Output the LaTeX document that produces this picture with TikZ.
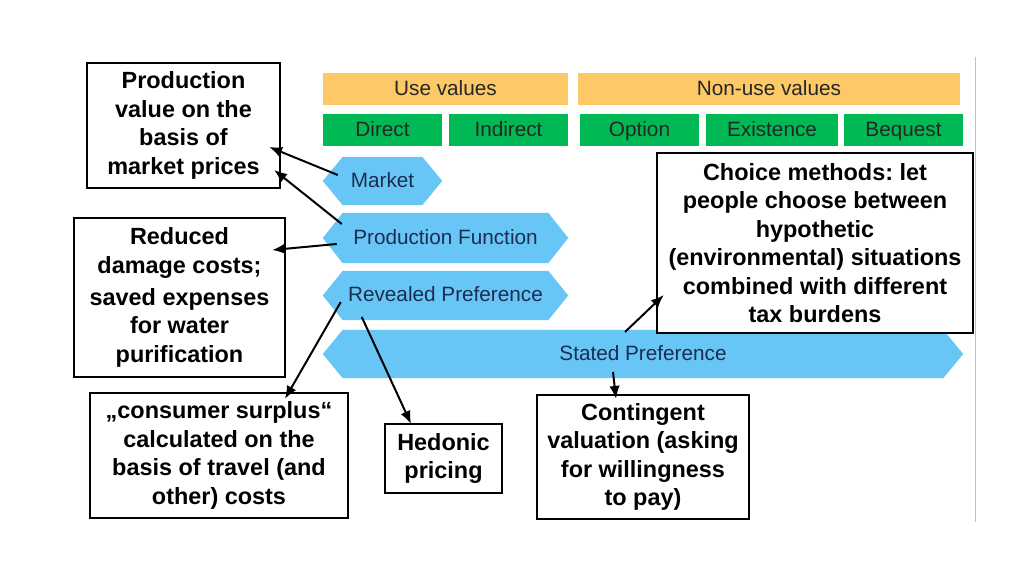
\documentclass[tikz,border=0pt]{standalone}
\usepackage{fontspec}
\setmainfont{Liberation Sans}
\usetikzlibrary{arrows.meta,backgrounds}
\frenchspacing
\newlength\pxu
\setlength\pxu{0.3mm}
\definecolor{barorange}{RGB}{253,201,102}
\definecolor{bargreen}{RGB}{0,184,84}
\definecolor{hexblue}{RGB}{104,198,246}
\definecolor{hextext}{RGB}{28,44,82}
\tikzset{
  bar/.style={inner sep=0pt, minimum height=32\pxu, text height=13pt, text depth=2pt,
    font=\fontsize{17.7}{21}\selectfont, text=black!85},
  hexa/.style={inner sep=0pt, text height=13pt, text depth=2pt,
    font=\fontsize{17.7}{21}\selectfont, text=hextext},
  note/.style={draw=black, line width=2pt, fill=white, align=center, inner sep=0pt,
    font=\fontsize{20}{24.3}\selectfont\bfseries},
  arr/.style={line width=1.7pt, -{Latex[length=11pt,width=9pt]}}
}
\begin{document}
\begin{tikzpicture}[x=0.3mm,y=-0.3mm]
\useasboundingbox (0,0) rectangle (1024,576);
\draw[black!25, line width=0.8pt] (975,57) -- (975,522);

% value categories
\node[bar, fill=barorange, minimum width=245\pxu] (use) at (445.5,89) {Use values};
\node[bar, fill=barorange, minimum width=382\pxu] (nonuse) at (769,89) {Non-use values};
\node[bar, fill=bargreen, minimum width=119\pxu] (direct) at (382.5,130) {Direct};
\node[bar, fill=bargreen, minimum width=119\pxu] (indirect) at (508.5,130) {Indirect};
\node[bar, fill=bargreen, minimum width=119\pxu] (option) at (639.5,130) {Option};
\node[bar, fill=bargreen, minimum width=132\pxu] (existence) at (772,130) {Existence};
\node[bar, fill=bargreen, minimum width=119\pxu] (bequest) at (903.5,130) {Bequest};

% methods
\node[hexa, minimum width=119\pxu, minimum height=48\pxu] (market) at (382.5,181) {Market};
\node[hexa, minimum width=245\pxu, minimum height=50\pxu] (pf) at (445.5,238) {Production Function};
\node[hexa, minimum width=245\pxu, minimum height=49\pxu] (rp) at (445.5,295.5) {Revealed Preference};
\node[hexa, minimum width=640\pxu, minimum height=48\pxu] (sp) at (643,354) {Stated Preference};
\begin{scope}[on background layer]
  \fill[white] (0,0) rectangle (1024,576);
  \foreach \h in {market,pf,rp,sp}
    \fill[hexblue] (\h.west) -- ([shift={(20,0)}]\h.north west) -- ([shift={(-20,0)}]\h.north east)
      -- (\h.east) -- ([shift={(-20,0)}]\h.south east) -- ([shift={(20,0)}]\h.south west) -- cycle;
\end{scope}

% explanations
\node[note, minimum width=193\pxu, minimum height=125\pxu] (prodval) at (183.5,125.5)
  {Production\\value on the\\basis of\\market prices};
\node[note, minimum width=211\pxu, minimum height=159\pxu] (damage) at (179.5,297.5)
  {Reduced\\damage costs;\\[3pt]saved expenses\\for water\\purification};
\node[note, minimum width=316\pxu, minimum height=180\pxu] (choice) at (815,243)
  {Choice methods: let\\people choose between\\hypothetic\\(environmental) situations\\combined with different\\tax burdens};
\node[note, minimum width=258\pxu, minimum height=125\pxu] (surplus) at (219,455.5)
  {„consumer surplus“\\calculated on the\\basis of travel (and\\other) costs};
\node[note, minimum width=117\pxu, minimum height=69\pxu] (hedonic) at (443.5,458.5)
  {Hedonic\\pricing};
\node[note, minimum width=212\pxu, minimum height=124\pxu] (contingent) at (643,457)
  {Contingent\\valuation (asking\\for willingness\\to pay)};

\draw[arr] ([shift={(15,-6)}]market.west) -- ([shift={(-12,21.5)}]prodval.east);
\draw[arr] ([shift={(19,-14)}]pf.west) -- ([shift={(-7,44.5)}]prodval.east);
\draw[arr] ([shift={(14,6)}]pf.west) -- ([shift={(-14,-47.5)}]damage.east);
\draw[arr] ([shift={(18,6.5)}]rp.west) -- ([shift={(66,7)}]surplus.north);
\draw[arr] ([shift={(39,21.5)}]rp.west) -- ([shift={(-32.5,1)}]hedonic.north);
\draw[arr] ([shift={(-30,18)}]sp.center) -- ([shift={(-27,5)}]contingent.north);
\draw[arr] ([shift={(-18,-22)}]sp.center) -- ([shift={(8,52)}]choice.west);

\end{tikzpicture}
\end{document}
